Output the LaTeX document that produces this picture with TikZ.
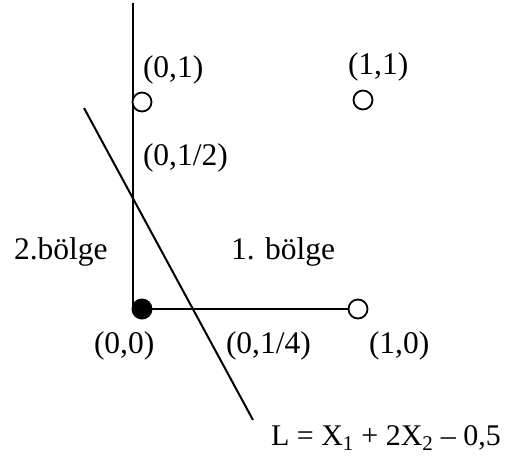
\documentclass[tikz,border=0pt]{standalone}
\usepackage{fontspec}
\setmainfont{Liberation Serif}
\usetikzlibrary{positioning}

\begin{document}
\begin{tikzpicture}[x=1pt,y=-1pt,line width=2pt,
  every node/.style={font=\fontsize{31.5}{36}\selectfont},
  lbl/.style={anchor=base west, inner sep=0pt},
  hole/.style={circle, draw, fill=white, minimum size=19pt, inner sep=0pt, line width=1.8pt},
  dot/.style={circle, fill=black, minimum size=21pt, inner sep=0pt}]
  \useasboundingbox (0,0) rectangle (508,458);
  % axes
  \coordinate (ytop) at (133,3);
  \coordinate (corner) at (133,309);
  \node[dot] (p00) at (142,309) {};
  \node[hole] (p10) at (358,309) {};
  \draw (ytop) -- (corner) -- (p10);
  \node[hole] (p01) at (142,102) {};
  \node[hole] (p11) at (363,100) {};
  % cut line
  \coordinate (cuta) at (84,108);
  \coordinate (cutb) at (253,420);
  \draw (cuta) -- (cutb);
  % labels
  \node[lbl] (l01) at (142,77) {(0,1)};
  \node[lbl] (l11) at (347,74) {(1,1)};
  \node[lbl] (lhalf) at (142,165) {(0,1/2)};
  \node[lbl] (w2) at (13,259) {2.bölge};
  \node[lbl] (w1) at (230,259) {1. bölge};
  \node[lbl] (l00) at (93,353) {(0,0)};
  \node[lbl] (lquart) at (225,353) {(0,1/4)};
  \node[lbl] (l10) at (368,353) {(1,0)};
  \node[lbl, font=\fontsize{30}{35}\selectfont] (eq) at (270,445) {L = X\textsubscript{1} + 2X\textsubscript{2} – 0,5};
\end{tikzpicture}
\end{document}
